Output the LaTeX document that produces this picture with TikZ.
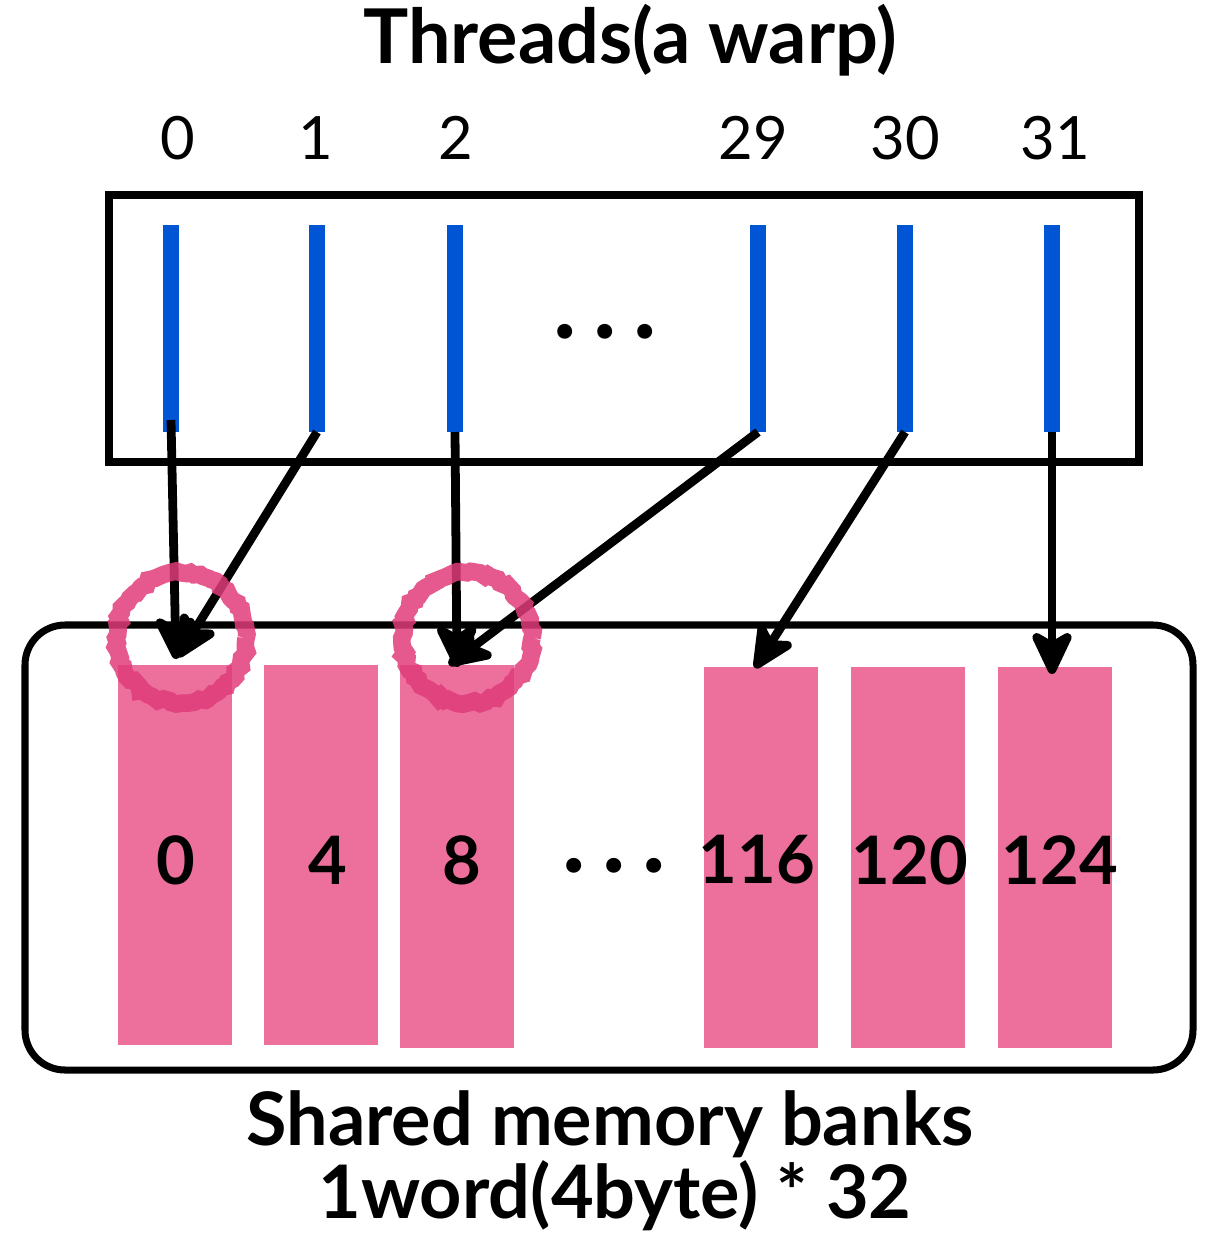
\documentclass[tikz,border=0pt]{standalone}
\usepackage{fontspec}
\setmainfont{Lato}
\usetikzlibrary{arrows.meta,decorations.pathmorphing}
\definecolor{bankpink}{HTML}{EC6F9C}
\definecolor{circpink}{HTML}{E03C7A}
\definecolor{threadblue}{HTML}{0055D4}
\begin{document}
\begin{tikzpicture}[x=0.02cm,y=-0.02cm,
  boxline/.style={line width=4pt,black},
  thread/.style={line width=9pt,threadblue},
  bank/.style={fill=bankpink,draw=none,minimum width=114*0.02cm,inner sep=0pt},
  banklabel/.style={font=\fontsize{38}{40}\selectfont\bfseries},
  tidlabel/.style={font=\fontsize{34}{38}\selectfont},
  conn/.style={line width=5pt,-{Stealth[length=30pt,width=28pt,inset=8pt,round]}},
  conflict/.style={line width=10pt,circpink,opacity=0.85,decorate,decoration={random steps,segment length=2.5pt,amplitude=1.2pt}},
  bigtitle/.style={font=\fontsize{43}{48}\selectfont\bfseries},
  bottomtitle/.style={font=\fontsize{42}{48}\selectfont\bfseries},
  ellip/.style={font=\fontsize{56}{56}\selectfont\bfseries}
]
\useasboundingbox (0,0) rectangle (1209,1234);
% title
\node[bigtitle] (title) at (630,40) {Threads(a warp)};
% thread labels
\node[tidlabel] (t0) at (178,138) {0};
\node[tidlabel] (t1) at (316,138) {1};
\node[tidlabel] (t2) at (456,138) {2};
\node[tidlabel] (t29) at (753,138) {29};
\node[tidlabel] (t30) at (905,138) {30};
\node[tidlabel] (t31) at (1055,138) {31};
% top box
\node[draw,boxline,minimum width=1030*0.02cm,minimum height=267*0.02cm,inner sep=0pt] (warp) at (624,328.5) {};
% thread bars
\foreach \n/\x in {0/171,1/317,2/455,29/758,30/905,31/1052}{
  \coordinate (bt\n) at (\x,225);
  \coordinate (bb\n) at (\x,432);
  \draw[thread] (bt\n) -- (bb\n);
}
\node[ellip] (dots1) at (605,332) {.\,.\,.};
% bottom box
\node[draw,boxline,rounded corners=40*0.02cm,minimum width=1168*0.02cm,minimum height=445*0.02cm,inner sep=0pt] (smem) at (609,847.5) {};
% banks
\node[bank,minimum height=380*0.02cm] (b0) at (175,855) {};
\node[bank,minimum height=380*0.02cm] (b4) at (320.5,855) {};
\node[bank,minimum height=383*0.02cm] (b8) at (457,856.5) {};
\node[bank,minimum height=381*0.02cm] (b116) at (761,857.5) {};
\node[bank,minimum height=381*0.02cm] (b120) at (908,857.5) {};
\node[bank,minimum height=381*0.02cm] (b124) at (1055,857.5) {};
\node[banklabel] (l0) at (176,860) {0};
\node[banklabel] (l4) at (328,860) {4};
\node[banklabel] (l8) at (462,860) {8};
\node[banklabel] (l116) at (757,860) {116};
\node[banklabel] (l120) at (910,860) {120};
\node[banklabel] (l124) at (1060,860) {124};
\node[ellip] (dots2) at (614,866) {.\,.\,.};
% targets
\coordinate (a0) at (176,659);
\coordinate (a1) at (178,657);
\coordinate (a8) at (457,667);
\coordinate (a8b) at (449,665);
\coordinate (a116) at (755,668);
\coordinate (a124) at (1052,674);
% connectors
\draw[conn] (171,420) -- (a0);
\draw[conn] (bb1) -- (a1);
\draw[conn] (bb2) -- (a8);
\draw[conn] (bb29) -- (a8b);
\draw[conn] (bb30) -- (a116);
\draw[conn] (bb31) -- (a124);
% conflict circles
\coordinate (c1) at (181,638);
\coordinate (c2) at (467,638);
\draw[conflict] (c1) circle[radius=65];
\draw[conflict] (c2) circle[radius=65];
% bottom text
\node[bottomtitle] (cap1) at (610,1124) {Shared memory banks};
\node[bottomtitle] (cap2) at (615,1196) {1word(4byte) * 32};
\end{tikzpicture}
\end{document}
